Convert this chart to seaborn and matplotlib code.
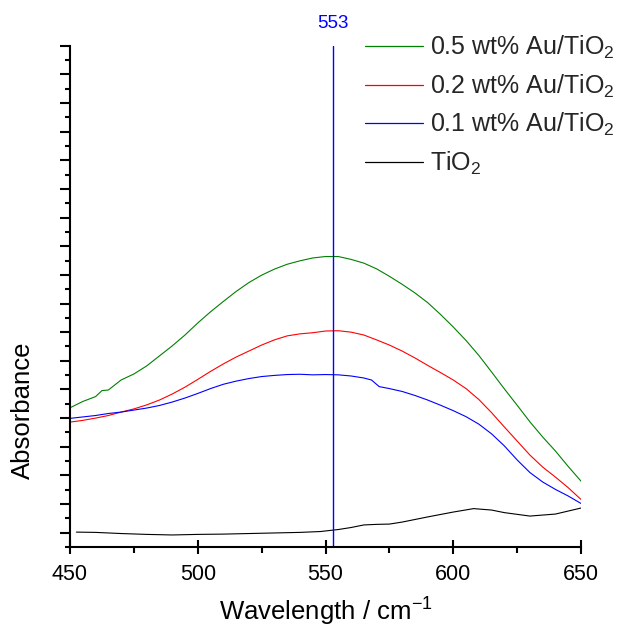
import numpy as np
import pandas as pd
import seaborn as sns
import matplotlib
matplotlib.use('Agg')
import matplotlib.pyplot as plt
from matplotlib.ticker import MultipleLocator, FixedLocator

# Spectra (absorbance, arbitrary units)

wl_au05 = [450, 455, 460, 462.5, 465, 470, 475, 480, 485, 490, 495, 500, 505, 510, 515, 520,
           525, 530, 535, 540, 545, 550, 555, 560, 565, 570, 575, 580, 585, 590, 595, 600,
           605, 610, 615, 620, 625, 630, 635, 640, 645, 650]
abs_au05 = [0.486, 0.508, 0.525, 0.546, 0.548, 0.583, 0.604, 0.632, 0.667, 0.702, 0.740, 0.782,
            0.821, 0.857, 0.892, 0.923, 0.949, 0.970, 0.987, 0.999, 1.009, 1.014, 1.014, 1.004,
            0.991, 0.971, 0.945, 0.917, 0.887, 0.853, 0.812, 0.768, 0.721, 0.669, 0.611, 0.552,
            0.495, 0.437, 0.384, 0.335, 0.281, 0.230]

wl_au02 = [450, 455, 460, 465, 470, 475, 480, 485, 490, 495, 500, 505, 510, 515, 520, 525,
           530, 535, 540, 545, 550, 555, 560, 565, 570, 575, 580, 585, 590, 595, 600, 605,
           610, 615, 620, 625, 630, 635, 640, 645, 650]
abs_au02 = [0.436, 0.442, 0.450, 0.459, 0.471, 0.482, 0.496, 0.513, 0.534, 0.558, 0.585, 0.613,
            0.639, 0.663, 0.684, 0.705, 0.723, 0.737, 0.744, 0.748, 0.754, 0.755, 0.750, 0.740,
            0.723, 0.705, 0.684, 0.660, 0.634, 0.609, 0.583, 0.553, 0.515, 0.469, 0.419, 0.370,
            0.321, 0.279, 0.244, 0.207, 0.166]

wl_au01 = [450, 455, 460, 465, 470, 475, 480, 485, 490, 495, 500, 505, 510, 515, 520, 525,
           530, 535, 540, 545, 550, 555, 560, 565, 568, 571, 575, 580, 585, 590, 595, 600,
           605, 610, 615, 620, 625, 630, 635, 640, 645, 650]
abs_au01 = [0.449, 0.454, 0.459, 0.466, 0.471, 0.478, 0.485, 0.494, 0.506, 0.520, 0.536, 0.553,
            0.568, 0.579, 0.588, 0.595, 0.599, 0.602, 0.603, 0.601, 0.602, 0.601, 0.597, 0.590,
            0.583, 0.560, 0.553, 0.543, 0.529, 0.513, 0.495, 0.476, 0.455, 0.429, 0.395, 0.353,
            0.304, 0.260, 0.227, 0.201, 0.178, 0.152]

wl_tio2 = [452.5, 460, 470, 480, 490, 500, 510, 520, 530, 540, 548, 555, 560, 565, 570, 575,
           580, 590, 600, 608, 615, 620, 630, 640, 650]
abs_tio2 = [0.052, 0.051, 0.047, 0.044, 0.042, 0.044, 0.045, 0.047, 0.049, 0.051, 0.054, 0.061,
            0.068, 0.077, 0.079, 0.080, 0.087, 0.105, 0.122, 0.134, 0.129, 0.120, 0.108, 0.115,
            0.136]

peak_wl = 553

series = [
    ('0.5 wt% Au/TiO$_2$', wl_au05, abs_au05, '#008000'),
    ('0.2 wt% Au/TiO$_2$', wl_au02, abs_au02, '#ff0000'),
    ('0.1 wt% Au/TiO$_2$', wl_au01, abs_au01, '#0000ff'),
    ('TiO$_2$', wl_tio2, abs_tio2, '#000000'),
]

sns.set_theme(style='ticks')
plt.rcParams['font.family'] = ['Liberation Sans', 'DejaVu Sans']
plt.rcParams['mathtext.fontset'] = 'custom'
plt.rcParams['mathtext.rm'] = 'Liberation Sans'
plt.rcParams['mathtext.it'] = 'Liberation Sans:italic'

fig = plt.figure(figsize=(6.23, 6.28), dpi=100)
ax = fig.add_axes([70/623, 1 - 547/628, 511/623, 501.3/628])

for name, x, y, col in series:
    df = pd.DataFrame({'wl': x, 'A': y})
    sns.lineplot(data=df, x='wl', y='A', color=col, linewidth=0.8, label=name, ax=ax)

ax.axvline(peak_wl, color='#0000ff', linewidth=1.0)
ax.text(peak_wl, 1.044, str(peak_wl), color='#0000ff', fontsize=13.5,
        ha='center', va='center', transform=ax.get_xaxis_transform())

ax.set_xlim(450, 650)
ax.set_ylim(0, 1.75)

ax.xaxis.set_major_locator(MultipleLocator(50))
ax.xaxis.set_minor_locator(MultipleLocator(25))
ax.yaxis.set_major_locator(FixedLocator(np.arange(0.05, 1.76, 0.1)))
ax.yaxis.set_minor_locator(FixedLocator(np.arange(0.0, 1.75, 0.1)))
ax.set_yticklabels([])

ax.tick_params(axis='x', which='major', direction='inout', length=10, width=1.5,
               labelsize=15.5, pad=7, color='black', labelcolor='black')
ax.tick_params(axis='x', which='minor', direction='out', length=4, width=1.5, color='black')
ax.tick_params(axis='y', which='major', direction='out', length=7, width=1.5, color='black')
ax.tick_params(axis='y', which='minor', direction='out', length=3.5, width=1.5, color='black')

for side in ['top', 'right']:
    ax.spines[side].set_visible(False)
for side in ['left', 'bottom']:
    ax.spines[side].set_linewidth(1.5)
    ax.spines[side].set_color('black')

ax.set_xlabel('Wavelength / cm$^{-1}$', fontsize=18.5, color='black')
ax.set_ylabel('Absorbance', fontsize=18.5, color='black')
ax.xaxis.label.set_verticalalignment('center')
ax.yaxis.label.set_verticalalignment('center')
ax.xaxis.set_label_coords(0.5, -0.129)
ax.yaxis.set_label_coords(-0.092, 0.273)

leg = ax.legend(loc='upper left', bbox_to_anchor=(295/511, 1.024), frameon=False,
                fontsize=18, handlelength=2.3, handletextpad=0.3, labelspacing=0.46,
                borderpad=0, borderaxespad=0)
for line in leg.get_lines():
    line.set_linewidth(0.9)

plt.savefig('out.png', dpi=100)
